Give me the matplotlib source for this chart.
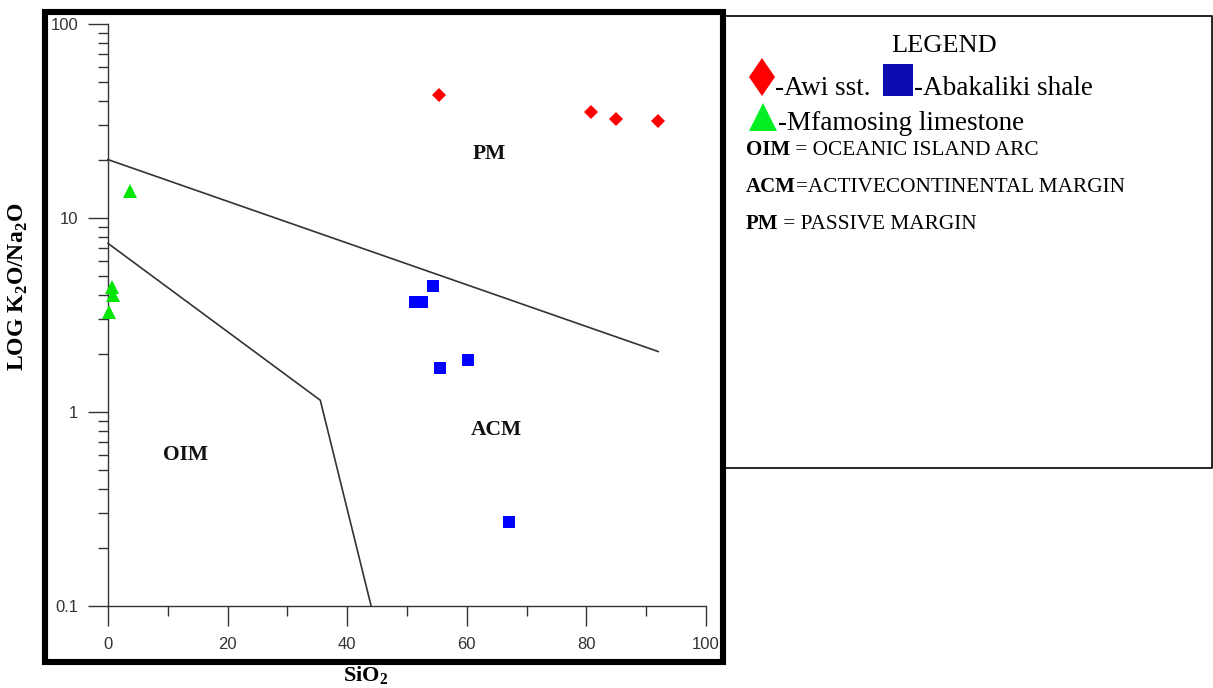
import matplotlib
matplotlib.use("Agg")
import matplotlib.pyplot as plt
from matplotlib.patches import Rectangle, Polygon
from matplotlib.ticker import FixedLocator, FixedFormatter, NullFormatter

# Awi sandstone (red diamonds)
awi_sio2 = [55.3, 80.8, 84.9, 92.0]
awi_ratio = [43.0, 35.2, 32.4, 31.6]
# Abakaliki shale (blue squares)
abk_sio2 = [54.3, 51.3, 52.5, 55.5, 60.2, 67.1]
abk_ratio = [4.46, 3.71, 3.71, 1.69, 1.85, 0.271]
# Mfamosing limestone (green triangles)
mfa_sio2 = [3.7, 0.7, 0.8, 0.2]
mfa_ratio = [13.8, 4.4, 4.0, 3.27]

# field boundaries
pm_acm_x = [0, 92]
pm_acm_y = [20, 2.05]
oim_x = [0, 35.5, 44]
oim_y = [7.4, 1.15, 0.1]

regions = ["PM", "ACM", "OIM"]
region_x = [63.7, 65.0, 12.9]
region_y = [21.4, 0.81, 0.6]

ytick_vals = [0.1, 1, 10, 100]
ytick_labels = ["0.1", "1", "10", "100"]
xtick_vals = [0, 20, 40, 60, 80, 100]

plt.rcParams["mathtext.fontset"] = "custom"
plt.rcParams["mathtext.rm"] = "Liberation Serif"
plt.rcParams["mathtext.bf"] = "Liberation Serif:bold"

SERIF = "Liberation Serif"
SANS = "Liberation Sans"
W, H = 1213, 688
fig = plt.figure(figsize=(W / 100, H / 100), dpi=100)

ax = fig.add_axes([108 / W, 1 - 606 / H, 598 / W, 582 / H])
ax.set_yscale("log")
ax.set_xlim(0, 100)
ax.set_ylim(0.1, 100)

for s in ["top", "right"]:
    ax.spines[s].set_visible(False)
for s in ["left", "bottom"]:
    ax.spines[s].set_color("#333333")
    ax.spines[s].set_linewidth(1.0)

# boundaries
ax.plot(pm_acm_x, pm_acm_y, color="#333333", lw=1.2, clip_on=False)
ax.plot(oim_x, oim_y, color="#333333", lw=1.2, clip_on=False)

# samples
ax.plot(awi_sio2, awi_ratio, ls="none", marker="D", ms=6.8, mew=0,
        color="#ff0000", clip_on=False)
ax.plot(abk_sio2, abk_ratio, ls="none", marker="s", ms=9, mew=0,
        color="#0000ff", clip_on=False)
ax.plot(mfa_sio2, mfa_ratio, ls="none", marker="^", ms=9.5, mew=0,
        color="#00e600", clip_on=False, zorder=3)

for name, x, y in zip(regions, region_x, region_y):
    ax.text(x, y, name, ha="center", va="center", fontsize=15.5,
            fontweight="bold", family=SERIF, color="#111111")

# ticks
ax.yaxis.set_major_locator(FixedLocator(ytick_vals))
ax.yaxis.set_major_formatter(FixedFormatter(ytick_labels))
minors = [m * 10.0 ** e for e in [-1, 0, 1] for m in range(2, 10)]
ax.yaxis.set_minor_locator(FixedLocator(minors))
ax.yaxis.set_minor_formatter(NullFormatter())
ax.set_xticks(xtick_vals)
ax.set_xticks(range(10, 100, 20), minor=True)
ax.tick_params(axis="both", which="major", direction="out", length=14.5,
               width=1.0, color="#333333", labelsize=12, labelcolor="#333333")
ax.tick_params(axis="both", which="minor", direction="out", length=7.5,
               width=1.0, color="#333333")
ax.tick_params(axis="x", which="major", pad=8)
ax.tick_params(axis="y", which="major", pad=7)
for lab in ax.get_xticklabels() + ax.get_yticklabels():
    lab.set_family(SANS)

# overlay in pixel coordinates for frame, axis titles and legend panel
ov = fig.add_axes([0, 0, 1, 1], facecolor="none")
ov.set_xlim(0, W)
ov.set_ylim(H, 0)
ov.axis("off")

ov.add_patch(Rectangle((45, 11.5), 678, 650.5, fill=False, ec="black", lw=4.4))
ov.plot([723, 1212, 1212, 723], [16, 16, 468, 468], color="black", lw=1.2)

ov.text(18, 287, r"LOG K$_\mathbf{2}$O/Na$_\mathbf{2}$O", rotation=90,
        ha="center", va="center", fontsize=17, fontweight="bold", family=SERIF)
ov.text(366, 687, r"SiO$_\mathbf{2}$", ha="center", va="bottom",
        fontsize=16, fontweight="bold", family=SERIF)

# legend panel
ov.text(944, 52, "LEGEND", ha="center", va="baseline", fontsize=19, family=SERIF)
ov.add_patch(Polygon([[762, 58], [775, 77], [762, 96], [749, 77]], closed=True,
                     fc="#ff0000", ec="none"))
ov.text(775, 95, "-Awi sst.", ha="left", va="baseline", fontsize=19.5, family=SERIF)
ov.add_patch(Rectangle((883, 64), 30, 32, fc="#0c0cb0", ec="none"))
ov.text(914, 95, "-Abakaliki shale", ha="left", va="baseline", fontsize=19.5, family=SERIF)
ov.add_patch(Polygon([[763, 103], [777, 131], [749, 131]], closed=True,
                     fc="#00ee22", ec="none"))
ov.text(778, 130, "-Mfamosing limestone", ha="left", va="baseline", fontsize=19.5, family=SERIF)

defs = [("OIM", " = OCEANIC ISLAND ARC", 160),
        ("ACM", "=ACTIVECONTINENTAL MARGIN", 197),
        ("PM", " = PASSIVE MARGIN", 234)]
for abbr, rest, yb in defs:
    t = ov.text(746, yb, abbr, ha="left", va="bottom", fontsize=15,
                fontweight="bold", family=SERIF)
    ov.annotate(rest, xy=(1, 0), xycoords=t, ha="left", va="bottom",
                fontsize=15.3, family=SERIF)

fig.savefig("out.png", dpi=100)
